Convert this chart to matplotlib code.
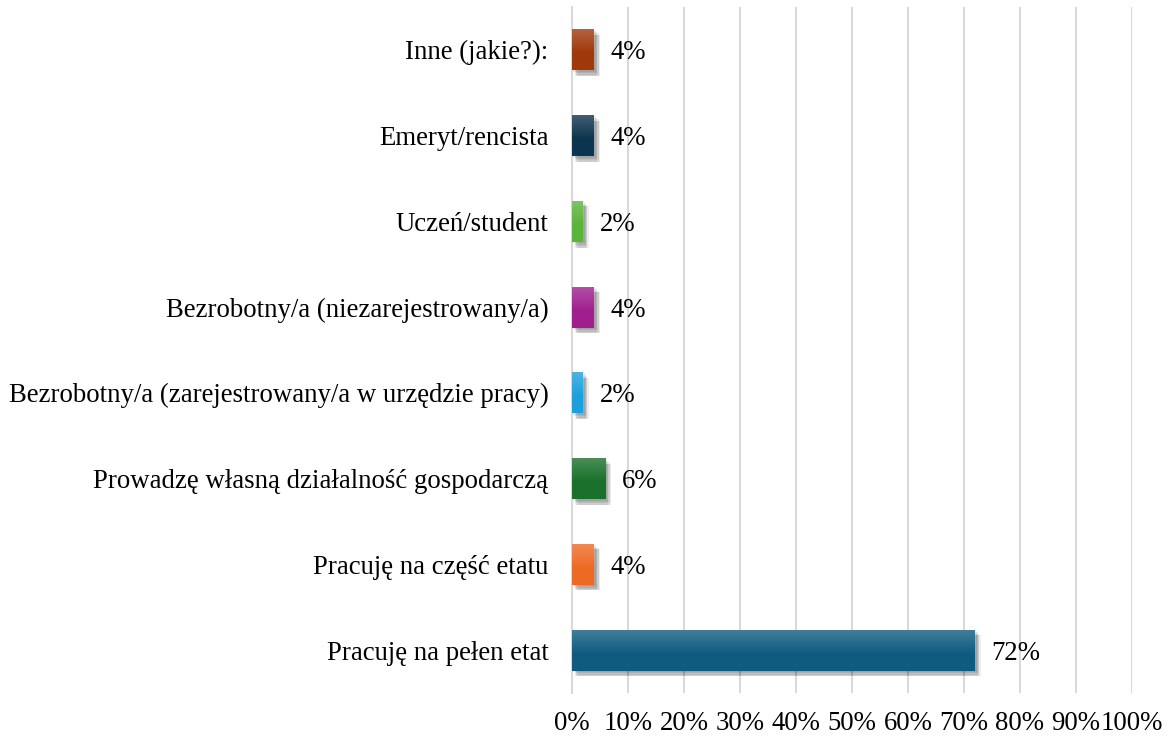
import matplotlib
matplotlib.use("Agg")
import matplotlib.pyplot as plt
import matplotlib.patheffects as pe
import numpy as np

categories = [
    "Pracuję na pełen etat",
    "Pracuję na część etatu",
    "Prowadzę własną działalność gospodarczą",
    "Bezrobotny/a (zarejestrowany/a w urzędzie pracy)",
    "Bezrobotny/a (niezarejestrowany/a)",
    "Uczeń/student",
    "Emeryt/rencista",
    "Inne (jakie?):",
]
values = [72, 4, 6, 2, 4, 2, 4, 4]
colors = ["#0F5B80", "#EE6A24", "#19702A", "#1CA0DC", "#A01F8E", "#5BB43A", "#0D344E", "#9F390B"]
xticks = list(range(0, 101, 10))
xticklabels = [f"{t}%" for t in xticks]

plt.rcParams['font.family'] = ['Liberation Serif', 'DejaVu Serif']
FS = 19.3

fig = plt.figure(figsize=(11.69, 7.38), dpi=100)
ax = fig.add_axes([0.4893, 0.061, 0.9683 - 0.4893, 0.9905 - 0.061])

y = np.arange(len(categories))
h = 0.48
shadow = []
for dx, dy in [(1, -1), (2, -2), (3, -3), (3, -4), (4, -4), (2, -4)]:
    shadow.append(pe.SimplePatchShadow(offset=(dx, dy), alpha=0.07, shadow_rgbFace='#000000'))
shadow.append(pe.Normal())
bars = ax.barh(y, values, height=h, color=colors, zorder=3, path_effects=shadow)

# gradient overlay (lighter at top)
for b in bars:
    n = 64
    grad = np.ones((n, 2, 4))
    t = np.linspace(0, 1, n)[:, None]
    grad[..., 3] = np.clip((t - 0.4) / 0.6, 0, 1) * 0.22
    x0, y0 = b.get_x(), b.get_y()
    im = ax.imshow(grad, extent=[x0, x0 + b.get_width(), y0, y0 + b.get_height()],
                   origin='lower', aspect='auto', zorder=4, interpolation='bilinear')
    im.set_clip_path(b)

for yi, v in zip(y, values):
    ax.text(v + 2.9, yi, f"{v}%", va='center_baseline', ha='left', fontsize=FS,
            color='black', zorder=5)

ax.set_xlim(0, 100)
ax.set_ylim(-0.5, len(categories) - 0.5)
ax.set_xticks(xticks)
ax.set_xticklabels(xticklabels, fontsize=FS)
ax.set_yticks(y)
ax.set_yticklabels(categories, fontsize=FS)
ax.tick_params(axis='both', length=0)
ax.tick_params(axis='y', pad=17)
ax.tick_params(axis='x', pad=13)
ax.grid(axis='x', color='#D9D9D9', linewidth=1.5, zorder=0)
ax.set_axisbelow(True)
for s in ['top', 'right', 'bottom']:
    ax.spines[s].set_visible(False)
ax.spines['left'].set_color('#D9D9D9')
ax.spines['left'].set_linewidth(1.5)

fig.savefig("out.png", dpi=100)
